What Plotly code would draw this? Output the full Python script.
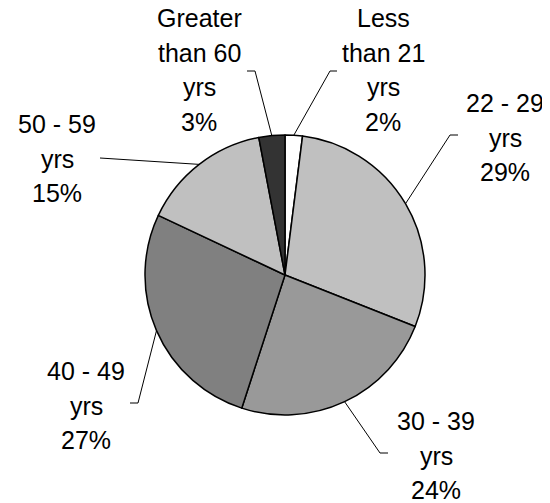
import math
import plotly.graph_objects as go

# ---- data ----
categories = ["Less than 21 yrs", "22 - 29 yrs", "30 - 39 yrs", "40 - 49 yrs", "50 - 59 yrs", "Greater than 60 yrs"]
label_lines = [["Less", "than 21", "yrs"], ["22 - 29", "yrs"], ["30 - 39", "yrs"],
               ["40 - 49", "yrs"], ["50 - 59", "yrs"], ["Greater", "than 60", "yrs"]]
values = [2, 29, 24, 27, 15, 3]
colors = ["#FFFFFF", "#C0C0C0", "#999999", "#808080", "#C0C0C0", "#333333"]

# page body has an 8px default margin; figure fills the rest of the window
OFF = 8
W, H = 550 - OFF, 503 - OFF
CX, CY, R = 285, 275, 140

# label layout (window pixel positions): center x, first baseline, elbow point, line end
label_pos = [
    dict(x=383, y0=27, elbow=(330, 71), end=(337, 71)),
    dict(x=505, y0=112, elbow=(450, 135), end=(458, 135)),
    dict(x=436, y0=430, elbow=(380, 453), end=(388, 453)),
    dict(x=86, y0=380, elbow=(138, 403), end=(130, 403)),
    dict(x=57, y0=133, elbow=(100, 158), end=(100, 158)),
    dict(x=199, y0=27, elbow=(255, 71), end=(247, 71)),
]
FS = 25
LINE_H = 34.5
FONT = "Liberation Sans, Arial, sans-serif"


def px(x):
    return (x - OFF) / W


def py(y):
    return 1 - (y - OFF) / H


fig = go.Figure(go.Pie(
    labels=categories, values=values, sort=False, direction="clockwise", rotation=0,
    marker=dict(colors=colors, line=dict(color="#000000", width=1.5)),
    textinfo="none", hoverinfo="skip", showlegend=False,
    domain=dict(x=[px(CX - R), px(CX + R)], y=[py(CY + R), py(CY - R)]),
))

annotations = []
shapes = []
total = sum(values)
cum = 0
for v, lines, pos in zip(values, label_lines, label_pos):
    mid = (cum + v / 2) / total * 2 * math.pi
    cum += v
    sx = CX + R * math.sin(mid)
    sy = CY - R * math.cos(mid)
    pct = f"{round(v / total * 100)}%"
    all_lines = lines + [pct]
    for i, t in enumerate(all_lines):
        base = pos["y0"] + i * LINE_H
        annotations.append(dict(
            x=px(pos["x"]), y=py(base - 9), xref="paper", yref="paper",
            text=t, showarrow=False, xanchor="center", yanchor="middle",
            font=dict(family=FONT, size=FS, color="#000000"),
        ))
    ex, ey = pos["elbow"]
    tx, ty = pos["end"]
    path = f"M {px(sx)},{py(sy)} L {px(ex)},{py(ey)} L {px(tx)},{py(ty)}"
    shapes.append(dict(type="path", xref="paper", yref="paper", path=path,
                       line=dict(color="#000000", width=1)))

fig.update_layout(
    width=W, height=H, margin=dict(l=0, r=0, t=0, b=0),
    paper_bgcolor="#FFFFFF", plot_bgcolor="#FFFFFF",
    annotations=annotations, shapes=shapes,
)

fig.write_html("out.html")
